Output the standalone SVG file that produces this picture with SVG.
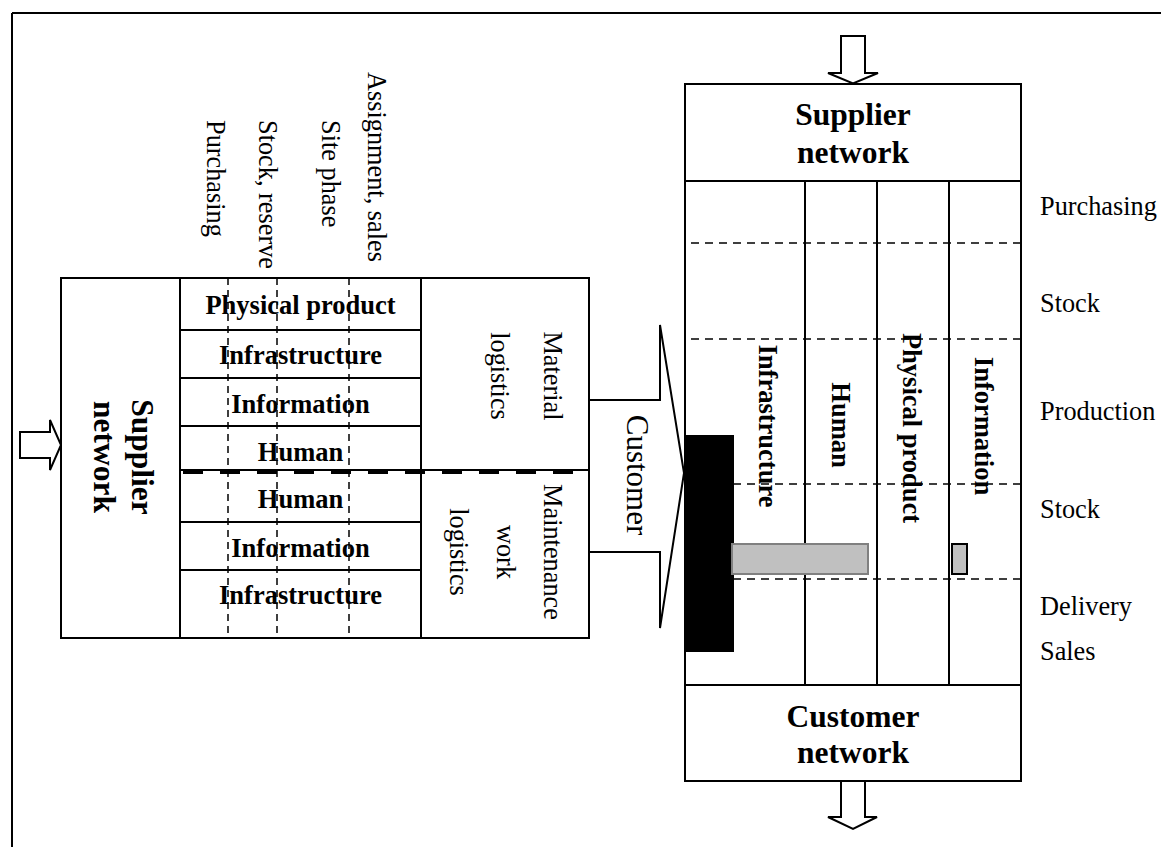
<svg xmlns="http://www.w3.org/2000/svg" width="1161" height="847" viewBox="0 0 1161 847">
<style>
.ln{stroke:#000;stroke-width:2;fill:none}
.wf{stroke:#000;stroke-width:2;fill:#fff}
.dh{stroke:#000;stroke-width:1.5;stroke-dasharray:8 6;fill:none}
.dv{stroke:#000;stroke-width:1.5;stroke-dasharray:7 5;fill:none}
.thick{stroke:#000;stroke-width:4;stroke-dasharray:20 17;fill:none}
.b{font-family:"Liberation Serif","Times New Roman",serif;font-weight:bold;font-size:26.5px;fill:#000}
.r{font-family:"Liberation Serif","Times New Roman",serif;font-size:26.3px;fill:#000}
.t{font-family:"Liberation Serif","Times New Roman",serif;font-weight:bold;font-size:31.5px;fill:#000}
.m{text-anchor:middle}
</style>
<rect x="0" y="0" width="1161" height="847" fill="#fff"/>
<g id="frame">
<path class="ln" d="M12,13 H1161 M12,13 V847"/>
</g>
<g id="phase-labels-left">
<text class="r" transform="translate(207,120) rotate(90)">Purchasing</text>
<text class="r" transform="translate(259,120) rotate(90)">Stock, reserve</text>
<text class="r" transform="translate(322,120) rotate(90)">Site phase</text>
<text class="r" transform="translate(368,72) rotate(90)">Assignment, sales</text>
</g>
<g id="left-supplier-network">
<rect class="ln" x="61" y="278" width="119" height="360"/>
<text class="t m" transform="translate(132,457) rotate(90)">Supplier</text>
<text class="t m" transform="translate(94,457) rotate(90)">network</text>
</g>
<g id="left-cells">
<rect class="ln" x="180" y="278" width="241" height="360"/>
<path class="ln" d="M180,330 H421 M180,378 H421 M180,426 H421 M180,470 H589 M180,522 H421 M180,570 H421"/>
<text class="b m" x="300.5" y="314">Physical product</text>
<text class="b m" x="300.5" y="364">Infrastructure</text>
<text class="b m" x="300.5" y="413">Information</text>
<text class="b m" x="300.5" y="461">Human</text>
<text class="b m" x="300.5" y="508">Human</text>
<text class="b m" x="300.5" y="557">Information</text>
<text class="b m" x="300.5" y="604">Infrastructure</text>
</g>
<g id="left-logistics">
<rect class="ln" x="421" y="278" width="168" height="360"/>
<text class="r m" transform="translate(544,376) rotate(90)">Material</text>
<text class="r m" transform="translate(491,376) rotate(90)">logistics</text>
<text class="r m" transform="translate(544,552) rotate(90)">Maintenance</text>
<text class="r m" transform="translate(497,552) rotate(90)">work</text>
<text class="r m" transform="translate(450,552) rotate(90)">logistics</text>
</g>
<g id="right-block">
<rect class="ln" x="685" y="84" width="336" height="697"/>
<path class="ln" d="M685,181 H1021 M685,685 H1021 M805,181 V685 M877,181 V685 M949,181 V685"/>
<path class="dh" d="M691,243 H1021 M691,339 H1021 M691,484 H1021 M691,579 H1021"/>
<text class="t m" x="853" y="125">Supplier</text>
<text class="t m" x="853" y="163">network</text>
<text class="t m" x="853" y="727">Customer</text>
<text class="t m" x="853" y="763">network</text>
<rect x="685" y="435" width="49" height="217" fill="#000"/>
<rect x="732" y="544" width="136" height="30" fill="#c0c0c0" stroke="#808080" stroke-width="2"/>
<rect x="952" y="544" width="15" height="30" fill="#c0c0c0" stroke="#000" stroke-width="2"/>
<text class="b m" transform="translate(759,426) rotate(90)">Infrastructure</text>
<text class="b m" transform="translate(832,425) rotate(90)">Human</text>
<text class="b m" transform="translate(903,428) rotate(90)">Physical product</text>
<text class="b m" transform="translate(975,426) rotate(90)">Information</text>
</g>
<g id="phase-labels-right">
<text class="r" x="1040" y="215">Purchasing</text>
<text class="r" x="1040" y="312">Stock</text>
<text class="r" x="1040" y="420">Production</text>
<text class="r" x="1040" y="518">Stock</text>
<text class="r" x="1040" y="615">Delivery</text>
<text class="r" x="1040" y="660">Sales</text>
</g>
<g id="connectors">
<path class="thick" d="M183,472 H580"/>
<path class="dv" d="M228,278 V638 M277,278 V638 M349,278 V638"/>
<path class="wf" d="M20,432 H50 V420 L61,445 L50,470 V458 H20 Z"/>
<path class="wf" d="M841,36 H865 V73 H878 L853,83.5 L828,73 H841 Z"/>
<path class="wf" d="M841,781 H865 V817 H877 L853,829 L828,817 H841 Z"/>
<path class="ln" d="M589,400 H660 V325 L684,473 L660,628 V552 H589"/>
<text class="r m" transform="translate(627,475) rotate(90)" style="font-size:31px">Customer</text>
</g>
</svg>
